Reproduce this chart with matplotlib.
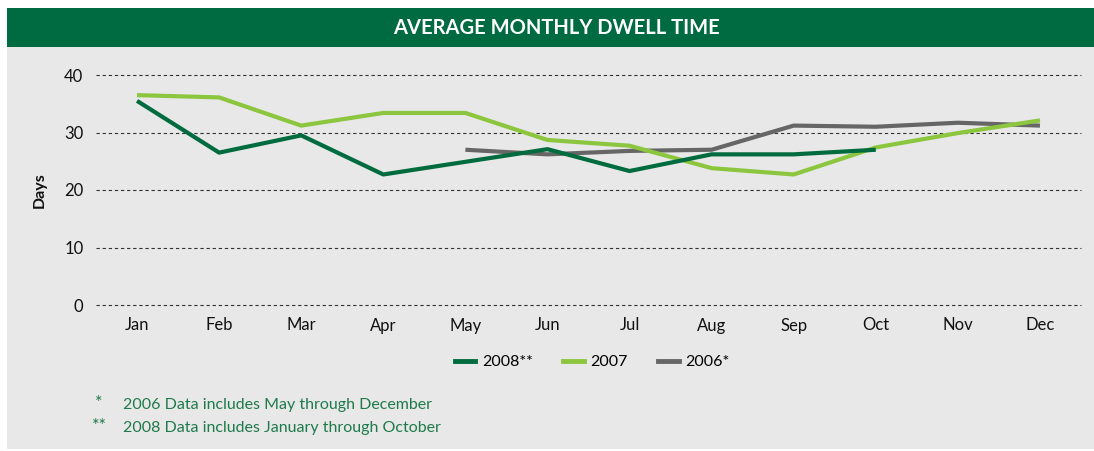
import numpy as np
import matplotlib
matplotlib.use('Agg')
import matplotlib.pyplot as plt
from matplotlib.patches import Rectangle
from matplotlib.lines import Line2D

plt.rcParams['font.family'] = ['Lato', 'DejaVu Sans']

# data
months = ['Jan', 'Feb', 'Mar', 'Apr', 'May', 'Jun', 'Jul', 'Aug', 'Sep', 'Oct', 'Nov', 'Dec']
y2008 = [35.5, 26.5, 29.5, 22.7, 24.9, 27.1, 23.3, 26.2, 26.2, 27.0, np.nan, np.nan]
y2007 = [36.5, 36.1, 31.2, 33.4, 33.4, 28.7, 27.7, 23.8, 22.7, 27.4, 29.9, 32.1]
y2006 = [np.nan, np.nan, np.nan, np.nan, 27.0, 26.2, 26.8, 27.0, 31.2, 31.0, 31.7, 31.2]
yticks = [0, 10, 20, 30, 40]

c2008 = '#006b3f'
c2007 = '#8cc63e'
c2006 = '#666666'
bg = '#e8e8e8'
W, H = 1094, 451

fig = plt.figure(figsize=(W / 100, H / 100), dpi=100)
# grey panel and green header band
fig.patches.append(Rectangle((7 / W, 2 / H), 1 - 7 / W, 402 / H, transform=fig.transFigure,
                             facecolor=bg, edgecolor='none', zorder=-10))
fig.patches.append(Rectangle((7 / W, (H - 47) / H), 1 - 7 / W, 39 / H, transform=fig.transFigure,
                             facecolor='#006a40', edgecolor='none', zorder=-10))
fig.text(556 / W, (H - 28) / H, 'AVERAGE MONTHLY DWELL TIME', color='white',
         fontsize=14.5, fontweight='bold', ha='center', va='center')

ax = fig.add_axes([96 / W, 146 / H, (1081 - 96) / W, 230 / H])
ax.set_zorder(2)
ax.set_facecolor('none')
x = np.arange(len(months))
ax.plot(x, y2006, color=c2006, lw=3, solid_capstyle='butt', zorder=3, clip_on=False)
ax.plot(x, y2007, color=c2007, lw=3, solid_capstyle='butt', zorder=4, clip_on=False)
ax.plot(x, y2008, color=c2008, lw=3, solid_capstyle='butt', zorder=5, clip_on=False)

ax.set_xlim(-0.5, len(months) - 0.5)
ax.set_ylim(0, 40)
ax.set_yticks(yticks)
ax.set_xticks(x)
ax.set_xticklabels(months)
ax.tick_params(length=0, labelsize=12, colors='#111111')
ax.tick_params(axis='x', pad=9)
ax.tick_params(axis='y', pad=9)
for s in ax.spines.values():
    s.set_visible(False)
for t in yticks:
    ax.axhline(t, color='#333333', lw=0.8, ls=(0, (3, 2.5)), zorder=1, clip_on=False)
fig.text(40 / W, (H - 190) / H, 'Days', rotation=90, fontsize=11.5, fontweight='bold',
         ha='center', va='center', color='#111111')

handles = [Line2D([], [], color=c, lw=3.5) for c in (c2008, c2007, c2006)]
fig.legend(handles, ['2008**', '2007', '2006*'], loc='center', bbox_to_anchor=(592 / W, (H - 362) / H),
           ncol=3, frameon=False, fontsize=11.5, handlelength=1.3, handletextpad=0.4,
           columnspacing=1.9)

fg = '#1e7a4a'
fig.text(95 / W, (H - 403) / H, '*', color=fg, fontsize=13, va='center')
fig.text(123 / W, (H - 405) / H, '2006 Data includes May through December', color=fg, fontsize=11.5, va='center')
fig.text(92 / W, (H - 426) / H, '**', color=fg, fontsize=13, va='center')
fig.text(123 / W, (H - 428) / H, '2008 Data includes January through October', color=fg, fontsize=11.5, va='center')

fig.savefig('out.png', dpi=100, facecolor='white')
